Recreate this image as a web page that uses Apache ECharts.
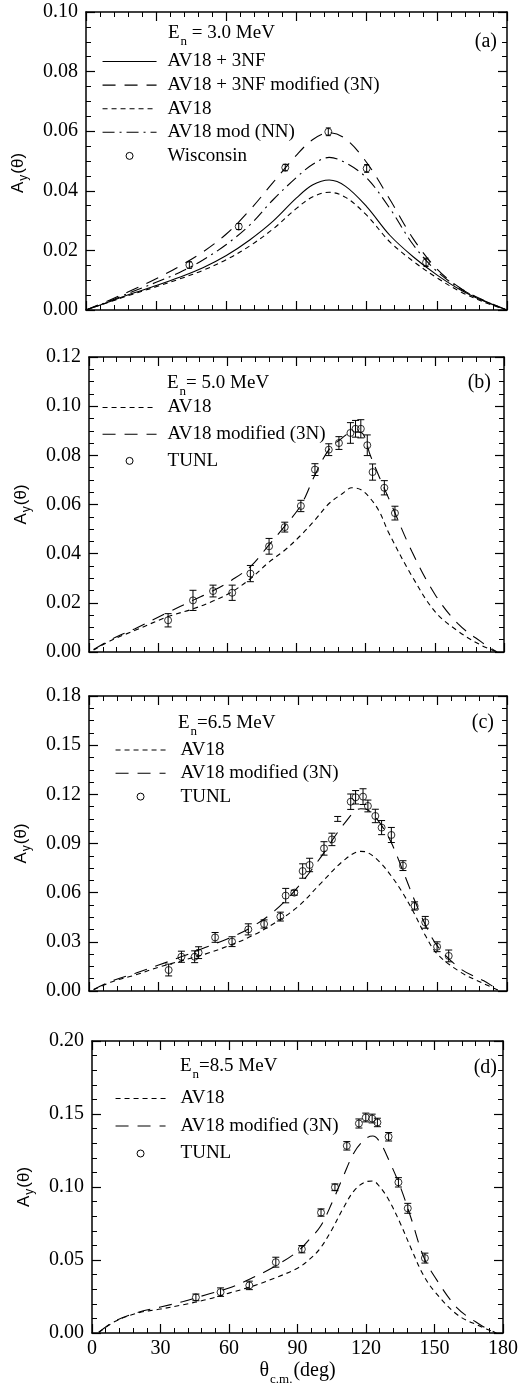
<!DOCTYPE html>
<html><head><meta charset="utf-8">
<script src="https://cdn.jsdelivr.net/npm/echarts@6/dist/echarts.min.js"></script>
<style>html,body{margin:0;padding:0;background:#fff}#c{width:521px;height:1388px}</style>
</head><body><div id="c"></div>
<script>
// ---------- Panel (a): En = 3.0 MeV ----------
const angA = [0,10,20,30,40,50,60,70,80,90,97,104,111,120,130,140,150,160,170,180];
const a_av18_3nf     = [0,0.0028,0.0056,0.0082,0.011,0.0142,0.0183,0.0235,0.0298,0.0376,0.042,0.0436,0.0415,0.0347,0.025,0.0178,0.0118,0.0068,0.003,0];
const a_av18_3nf_mod = [0,0.0033,0.0068,0.0105,0.0147,0.0195,0.0255,0.0335,0.0428,0.052,0.0572,0.0595,0.0574,0.0495,0.037,0.0238,0.0138,0.0074,0.0033,0];
const a_av18         = [0,0.0027,0.0053,0.0078,0.0104,0.0133,0.0169,0.0215,0.0272,0.0341,0.038,0.0395,0.0378,0.0318,0.0228,0.0163,0.0108,0.0062,0.0027,0];
const a_av18_nn      = [0,0.003,0.0062,0.0093,0.0126,0.0168,0.022,0.0285,0.037,0.0445,0.0489,0.0512,0.0494,0.0443,0.034,0.0218,0.013,0.0072,0.0032,0];
const a_wisc_ang = [44.2,65.3,85.2,103.6,120.0,145.4];
const a_wisc_val = [0.0151,0.0280,0.0478,0.0598,0.0475,0.0160];
const a_wisc_err = [0.0011,0.0010,0.0011,0.0013,0.0013,0.0014];

// ---------- Panel (b): En = 5.0 MeV ----------
const angB = [2,10,20,34,45,54,62,70,78,85,92,98,104,110,114,118,122,126,130,140,150,160,170,177];
const b_av18     = [0.0008,0.0049,0.0088,0.0143,0.0175,0.0208,0.0245,0.0298,0.0365,0.0415,0.0476,0.0537,0.0603,0.0645,0.0668,0.066,0.0625,0.057,0.0485,0.031,0.0165,0.0085,0.0028,0];
const b_av18_mod = [0.001,0.0053,0.0095,0.016,0.021,0.025,0.0293,0.0347,0.0435,0.0513,0.0598,0.072,0.0822,0.0872,0.0895,0.0893,0.08,0.071,0.0625,0.041,0.0235,0.0115,0.0042,0];
const b_tunl_ang = [34.3,45.1,53.8,62.1,70.0,78.1,84.9,91.9,98.0,104.0,108.4,113.4,115.6,117.9,120.7,123.0,128.1,132.7];
const b_tunl_val = [0.0129,0.0210,0.0248,0.0241,0.0319,0.0430,0.0508,0.0594,0.0742,0.0823,0.0850,0.0891,0.0908,0.0908,0.0841,0.0732,0.0668,0.0565];
const b_tunl_err = [0.0027,0.0041,0.0024,0.0031,0.0033,0.0032,0.0020,0.0023,0.0024,0.0024,0.0026,0.0042,0.0034,0.0037,0.0042,0.0033,0.0029,0.0028];

// ---------- Panel (c): En = 6.5 MeV ----------
const angC = [2,10,20,30,40,50,60,70,80,90,100,110,117,120,125,130,135,140,145,150,160,170,177];
const c_av18     = [0.0008,0.0057,0.0098,0.0145,0.0185,0.0225,0.0275,0.0335,0.0415,0.0515,0.066,0.080,0.0852,0.0845,0.079,0.0705,0.060,0.0475,0.0335,0.0225,0.0115,0.0045,0];
const c_av18_mod = [0.0009,0.0062,0.0108,0.0158,0.021,0.0265,0.032,0.039,0.049,0.0635,0.082,0.1023,0.1112,0.1105,0.103,0.091,0.074,0.056,0.040,0.0275,0.0135,0.0062,0];
const c_tunl_ang = [34.3,39.8,45.5,47.2,54.3,61.6,68.6,75.4,82.4,84.7,88.4,92.0,95.0,101.2,104.6,112.7,114.8,118.0,120.1,123.3,126.0,130.2,135.2,140.2,144.8,149.9,154.9];
const c_tunl_val = [0.0128,0.0209,0.0209,0.0234,0.0327,0.0301,0.0376,0.0409,0.0454,0.0582,0.0600,0.0732,0.0769,0.0870,0.0925,0.1155,0.1182,0.1186,0.1129,0.1068,0.0997,0.0952,0.0765,0.0519,0.0419,0.0270,0.0214];
const c_tunl_err = [0.0036,0.0034,0.0036,0.0036,0.0030,0.0030,0.0034,0.0025,0.0027,0.0044,0.0015,0.0044,0.0041,0.0041,0.0038,0.0047,0.0041,0.0048,0.0036,0.0041,0.0043,0.0046,0.0030,0.0025,0.0036,0.0030,0.0036];
// error bar drawn without a circle
const c_bar_ang = [107.1];
const c_bar_val = [0.105];
const c_bar_err = [0.0015];

// ---------- Panel (d): En = 8.5 MeV ----------
const angD = [3,10,20,30,40,50,60,70,80,90,95,100,105,110,115,120,123,126,130,135,140,145,150,160,170,177];
const d_av18     = [0.0005,0.0078,0.0137,0.0164,0.0194,0.0228,0.0273,0.0319,0.0376,0.0444,0.0501,0.0581,0.0706,0.0854,0.0979,0.1036,0.1041,0.1002,0.0911,0.0752,0.057,0.040,0.0285,0.0125,0.0046,0];
const d_av18_mod = [0.0005,0.0082,0.0141,0.0178,0.0216,0.0262,0.0308,0.0376,0.0456,0.0558,0.0638,0.0729,0.0888,0.1071,0.1242,0.1333,0.1349,0.131,0.1185,0.1002,0.0774,0.053,0.0387,0.0171,0.0057,0];
const d_tunl_ang = [45.5,56.3,68.9,80.5,91.9,100.3,106.4,111.6,116.9,119.9,122.7,125.0,129.9,134.2,138.3,145.8];
const d_tunl_val = [0.0244,0.0280,0.0326,0.0485,0.0574,0.0825,0.0998,0.1282,0.1435,0.1476,0.1469,0.1442,0.1344,0.1032,0.0854,0.0513];
const d_tunl_err = [0.0023,0.0029,0.0029,0.0034,0.0025,0.0025,0.0023,0.0029,0.0031,0.0030,0.0030,0.0029,0.0029,0.0032,0.0034,0.0034];

// ---------- axis ranges / ticks ----------
const yMax = [0.10, 0.12, 0.18, 0.20];
const yInt = [0.02, 0.02, 0.03, 0.05];
const yMinor = [4, 4, 4, 5];
const xTicks = [0, 30, 60, 90, 120, 150, 180];

const SERIF = '"Liberation Serif","Times New Roman",serif';
const SANS = '"Liberation Sans",Arial,sans-serif';

const grids = [
  {left: 86, top: 12, width: 421, height: 298},
  {left: 89, top: 357, width: 415, height: 295},
  {left: 89, top: 696, width: 418, height: 295},
  {left: 92, top: 1041, width: 415, height: 292}
];

function axisCommon() {
  return {
    axisLine: {show: true, onZero: false, lineStyle: {color: '#000', width: 1.5}},
    axisTick: {show: true, inside: true, length: 9, lineStyle: {color: '#000', width: 1.2}},
    minorTick: {show: true, length: 5, lineStyle: {color: '#000', width: 1}},
    splitLine: {show: false}, minorSplitLine: {show: false}
  };
}
const xAxes = [], yAxes = [];
for (let g = 0; g < 4; g++) {
  for (const pos of ['bottom', 'top']) {
    const ax = Object.assign(axisCommon(), {
      type: 'value', gridIndex: g, position: pos, min: xTicks[0], max: xTicks[xTicks.length - 1], interval: 30,
      axisLabel: {show: pos === 'bottom' && g === 3, color: '#000', fontFamily: SERIF, fontSize: 20, margin: 6}
    });
    ax.minorTick.splitNumber = 5;
    if (pos === 'bottom' && g === 3) {
      ax.name = '{t|θ}{s|c.m.}{t|(deg)}';
      ax.nameLocation = 'middle';
      ax.nameGap = 22;
      ax.nameTextStyle = {rich: {
        t: {fontFamily: SERIF, fontSize: 20, color: '#000'},
        s: {fontFamily: SERIF, fontSize: 13, color: '#000', padding: [18, 1, 0, 1]}
      }};
    }
    xAxes.push(ax);
  }
  for (const pos of ['left', 'right']) {
    const ax = Object.assign(axisCommon(), {
      type: 'value', gridIndex: g, position: pos, min: 0, max: yMax[g], interval: yInt[g],
      axisLabel: {show: pos === 'left', color: '#000', fontFamily: SERIF, fontSize: 20, margin: 8,
                  formatter: v => v.toFixed(2)}
    });
    ax.minorTick.splitNumber = yMinor[g];
    if (pos === 'left') {
      ax.name = '{t|A}{s|y}{t|(θ)}';
      ax.nameLocation = 'middle';
      ax.nameRotate = 90;
      ax.nameGap = 56;
      ax.nameTextStyle = {padding: g === 0 ? [0, 24, 0, 0] : 0, rich: {
        t: {fontFamily: SANS, fontSize: 17, color: '#000'},
        s: {fontFamily: SANS, fontSize: 12, color: '#000', padding: [12, 1, 0, 1]}
      }};
    }
    yAxes.push(ax);
  }
}

const pairs = (xs, ys) => xs.map((x, i) => [x, ys[i]]);
const triples = (xs, ys, es) => xs.map((x, i) => [x, ys[i], es[i]]);

function lineSeries(name, g, xs, ys, dash) {
  return {type: 'line', name, xAxisIndex: 2 * g, yAxisIndex: 2 * g, data: pairs(xs, ys),
    symbol: 'none', showSymbol: false, smooth: 0.35, z: 2, silent: true,
    lineStyle: {color: '#000', width: 1.1, type: dash}};
}
function errSeries(name, g, xs, ys, es, cap) {
  return {type: 'custom', name, xAxisIndex: 2 * g, yAxisIndex: 2 * g, data: triples(xs, ys, es), z: 3, silent: true,
    encode: {x: 0, y: 1},
    renderItem: function (params, api) {
      const x = api.value(0), y = api.value(1), e = api.value(2);
      const p1 = api.coord([x, y + e]), p2 = api.coord([x, y - e]);
      const st = {stroke: '#000', lineWidth: 1};
      return {type: 'group', children: [
        {type: 'line', shape: {x1: p1[0], y1: p1[1], x2: p2[0], y2: p2[1]}, style: st},
        {type: 'line', shape: {x1: p1[0] - cap, y1: p1[1], x2: p1[0] + cap, y2: p1[1]}, style: st},
        {type: 'line', shape: {x1: p2[0] - cap, y1: p2[1], x2: p2[0] + cap, y2: p2[1]}, style: st}
      ]};
    }};
}
function dotSeries(name, g, xs, ys) {
  return {type: 'scatter', name, xAxisIndex: 2 * g, yAxisIndex: 2 * g, data: pairs(xs, ys),
    symbol: 'circle', symbolSize: 7, z: 4, silent: true,
    itemStyle: {color: 'rgba(0,0,0,0)', borderColor: '#000', borderWidth: 1}};
}

const SOLID = 'solid', SHORT = [5, 4], LONG = [13, 9], DASHDOT = [12, 5, 2, 5];

const series = [
  lineSeries('AV18 + 3NF', 0, angA, a_av18_3nf, SOLID),
  lineSeries('AV18 + 3NF modified (3N)', 0, angA, a_av18_3nf_mod, LONG),
  lineSeries('AV18', 0, angA, a_av18, SHORT),
  lineSeries('AV18 mod (NN)', 0, angA, a_av18_nn, DASHDOT),
  errSeries('Wisconsin err', 0, a_wisc_ang, a_wisc_val, a_wisc_err, 2.5),
  dotSeries('Wisconsin', 0, a_wisc_ang, a_wisc_val),

  lineSeries('AV18', 1, angB, b_av18, SHORT),
  lineSeries('AV18 modified (3N)', 1, angB, b_av18_mod, LONG),
  errSeries('TUNL err', 1, b_tunl_ang, b_tunl_val, b_tunl_err, 3.5),
  dotSeries('TUNL', 1, b_tunl_ang, b_tunl_val),

  lineSeries('AV18', 2, angC, c_av18, SHORT),
  lineSeries('AV18 modified (3N)', 2, angC, c_av18_mod, LONG),
  errSeries('TUNL err', 2, c_tunl_ang, c_tunl_val, c_tunl_err, 3.5),
  errSeries('TUNL err', 2, c_bar_ang, c_bar_val, c_bar_err, 3.5),
  dotSeries('TUNL', 2, c_tunl_ang, c_tunl_val),

  lineSeries('AV18', 3, angD, d_av18, SHORT),
  lineSeries('AV18 modified (3N)', 3, angD, d_av18_mod, LONG),
  errSeries('TUNL err', 3, d_tunl_ang, d_tunl_val, d_tunl_err, 3.5),
  dotSeries('TUNL', 3, d_tunl_ang, d_tunl_val)
];

const lineItem = n => ({name: n, itemStyle: {opacity: 0}});
const dotItem = n => ({name: n, icon: 'circle', itemStyle: {color: 'rgba(0,0,0,0)', borderColor: '#000', borderWidth: 1, opacity: 1}});
function legendAt(left, top, gap, width, textPad, items) {
  return {data: items, orient: 'vertical', left, top, itemGap: gap, itemWidth: width, itemHeight: 7,
    padding: 0, selectedMode: false, lineStyle: {width: 1.1},
    textStyle: {fontFamily: SERIF, fontSize: 19, color: '#000', padding: [0, 0, 0, textPad]}};
}
const legends = [
  legendAt(102, 52, 4.6, 54, 6, [lineItem('AV18 + 3NF'), lineItem('AV18 + 3NF modified (3N)'), lineItem('AV18'), lineItem('AV18 mod (NN)'), dotItem('Wisconsin')]),
  legendAt(102, 398, 7.7, 54, 6, [lineItem('AV18'), lineItem('AV18 modified (3N)'), dotItem('TUNL')]),
  legendAt(115, 740.5, 4.3, 50, 10, [lineItem('AV18'), lineItem('AV18 modified (3N)'), dotItem('TUNL')]),
  legendAt(115, 1089, 8.5, 50, 10, [lineItem('AV18'), lineItem('AV18 modified (3N)'), dotItem('TUNL')])
];

const richHead = {
  m: {fontFamily: SERIF, fontSize: 19, color: '#000', fontWeight: 'normal'},
  s: {fontFamily: SERIF, fontSize: 13, color: '#000', fontWeight: 'normal', padding: [17, 0, 0, 1]}
};
const headText = ['{m|E}{s|n}{m| = 3.0 MeV}', '{m|E}{s|n}{m|= 5.0 MeV}', '{m|E}{s|n}{m|=6.5 MeV}', '{m|E}{s|n}{m|=8.5 MeV}'];
const headPos = [[168, 18.5], [167, 368], [178, 708], [180, 1051]];
const panelText = ['(a)', '(b)', '(c)', '(d)'];
const panelPos = [[24, 31.5], [30, 373], [27, 713], [24, 1058]];
const titles = [];
for (let g = 0; g < 4; g++) {
  titles.push({text: headText[g], left: headPos[g][0], top: headPos[g][1], padding: 0, textStyle: {rich: richHead}});
  titles.push({text: panelText[g], right: panelPos[g][0], top: panelPos[g][1], padding: 0,
    textStyle: {fontFamily: SERIF, fontSize: 20, fontWeight: 'normal', color: '#000'}});
}

const chart = echarts.init(document.getElementById('c'), null, {renderer: 'canvas'});
chart.setOption({
  animation: false,
  backgroundColor: '#fff',
  title: titles,
  legend: legends,
  grid: grids,
  xAxis: xAxes,
  yAxis: yAxes,
  series
});
</script></body></html>
